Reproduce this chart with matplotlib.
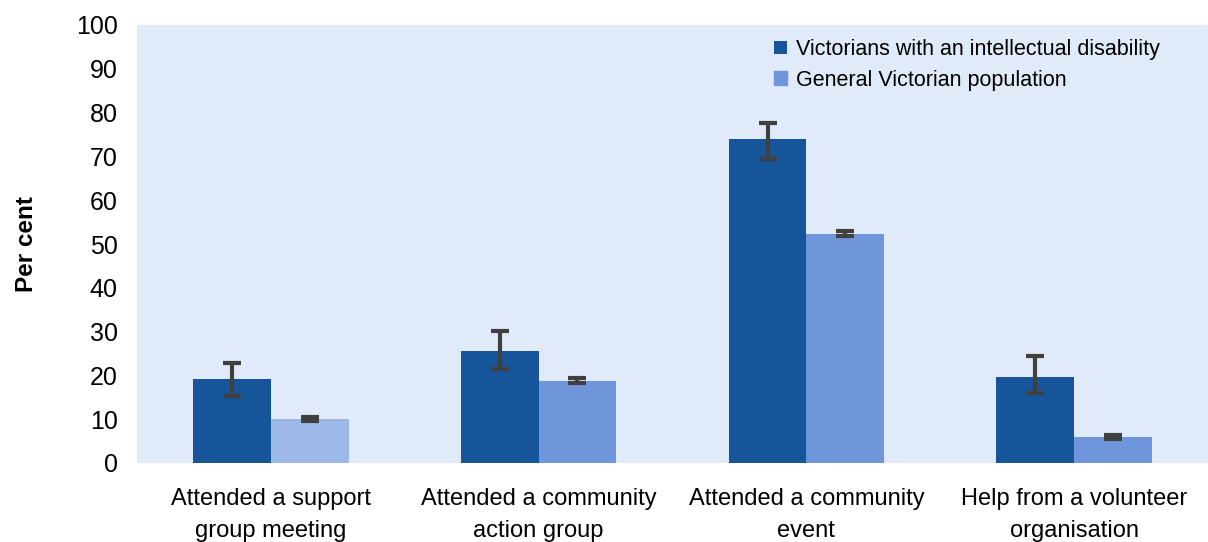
import numpy as np
import matplotlib
matplotlib.use("Agg")
import matplotlib.pyplot as plt

plt.rcParams['font.family'] = ['Liberation Sans', 'DejaVu Sans']

categories = ["Attended a support\ngroup meeting", "Attended a community\naction group",
              "Attended a community\nevent", "Help from a volunteer\norganisation"]
series_names = ["Victorians with an intellectual disability", "General Victorian population"]

idd_vals = [19.2, 25.6, 74.0, 19.6]
idd_low = [15.3, 21.5, 69.4, 16.0]
idd_high = [22.8, 30.1, 77.6, 24.4]

gen_vals = [10.0, 18.7, 52.3, 5.9]
gen_low = [9.5, 18.2, 51.8, 5.4]
gen_high = [10.5, 19.3, 52.9, 6.4]

dark = "#16559A"
light = "#6F96DA"
light_colors = ["#9DB8E7", light, light, light]

fig = plt.figure(figsize=(12.08, 5.42), dpi=100)
ax = fig.add_axes([137/1208, 1-463/542, 1-137/1208, 438/542])
ax.set_facecolor("#E1EAF8")

x = np.arange(len(categories))
w = 0.29
idd = np.array(idd_vals)
gen = np.array(gen_vals)
ax.bar(x - w/2, idd, w, color=dark, label=series_names[0])
ax.bar(x + w/2, gen, w, color=light_colors, label=series_names[1])

ax.errorbar(x - w/2, idd, yerr=[idd - np.array(idd_low), np.array(idd_high) - idd],
            fmt="none", ecolor="#404040", elinewidth=3, capsize=6.5, capthick=3)
ax.errorbar(x + w/2, gen, yerr=[gen - np.array(gen_low), np.array(gen_high) - gen],
            fmt="none", ecolor="#404040", elinewidth=3, capsize=6.5, capthick=3)

ax.set_xlim(-0.5, 3.5)
ax.set_ylim(0, 100)
ax.set_yticks(range(0, 101, 10))
ax.set_xticks(x)
ax.set_xticklabels(categories, fontsize=17, linespacing=1.6)
ax.tick_params(axis="y", length=0, pad=14, labelsize=18)
ax.tick_params(axis="x", length=0, pad=18)
for s in ax.spines.values():
    s.set_visible(False)
ax.set_ylabel("Per cent", fontsize=17.5, fontweight="bold", labelpad=27)

h, l = ax.get_legend_handles_labels()
leg = ax.legend(h, l, loc="upper right", bbox_to_anchor=(0.973, 1.012), frameon=False,
                fontsize=15.5, handlelength=0.6, handleheight=0.6, handletextpad=0.4,
                labelspacing=0.45)
leg.legend_handles[1].set_color(light)

fig.savefig("out.png", dpi=100)
